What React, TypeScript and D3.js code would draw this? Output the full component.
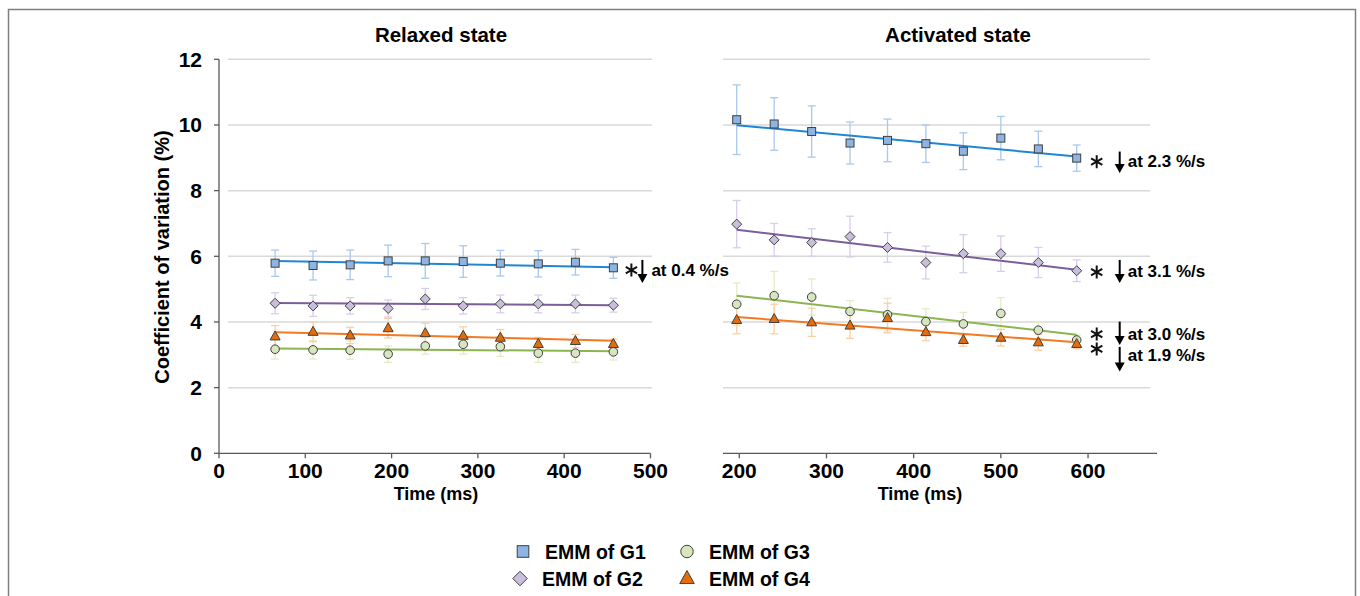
import React from 'react';
import * as d3 from 'd3';

// time points (ms) of the two protocols
const timesRelaxed = [65, 109, 152, 196, 239, 283, 326, 370, 413, 457];
const timesActivated = [197, 240, 283, 327, 370, 414, 457, 500, 543, 587];

const groups = ['G1', 'G2', 'G3', 'G4'];
const legendLabels = ['EMM of G1', 'EMM of G2', 'EMM of G3', 'EMM of G4'];

// estimated marginal means, relaxed state
const relaxedG1 = [5.79, 5.72, 5.74, 5.86, 5.86, 5.84, 5.79, 5.77, 5.82, 5.65];
const relaxedG2 = [4.57, 4.49, 4.49, 4.41, 4.7, 4.49, 4.55, 4.55, 4.55, 4.51];
const relaxedG3 = [3.17, 3.15, 3.14, 3.02, 3.27, 3.32, 3.25, 3.05, 3.05, 3.09];
const relaxedG4 = [3.56, 3.7, 3.59, 3.81, 3.66, 3.58, 3.52, 3.33, 3.42, 3.33];
const relaxedErrG1 = [0.4, 0.44, 0.45, 0.48, 0.53, 0.48, 0.39, 0.4, 0.39, 0.32];
const relaxedErrG2 = [0.32, 0.32, 0.25, 0.26, 0.32, 0.25, 0.27, 0.27, 0.27, 0.21];
const relaxedErrG3 = [0.3, 0.28, 0.28, 0.25, 0.25, 0.3, 0.3, 0.28, 0.28, 0.25];
const relaxedErrG4 = [0.33, 0.3, 0.25, 0.3, 0.3, 0.27, 0.25, 0.2, 0.2, 0.15];
const relaxedTrend = [[5.86, 5.67], [4.58, 4.51], [3.19, 3.11], [3.69, 3.43]];

// estimated marginal means, activated state
const activatedG1 = [10.16, 10.03, 9.8, 9.45, 9.53, 9.43, 9.2, 9.6, 9.27, 8.99];
const activatedG2 = [6.98, 6.5, 6.42, 6.6, 6.27, 5.81, 6.08, 6.08, 5.81, 5.56];
const activatedG3 = [4.54, 4.8, 4.76, 4.32, 4.22, 4.01, 3.94, 4.26, 3.75, 3.45];
const activatedG4 = [4.06, 4.09, 3.99, 3.89, 4.12, 3.69, 3.45, 3.52, 3.38, 3.33];
const activatedErrG1 = [1.06, 0.8, 0.78, 0.64, 0.65, 0.57, 0.56, 0.66, 0.54, 0.4];
const activatedErrG2 = [0.72, 0.5, 0.42, 0.62, 0.45, 0.5, 0.58, 0.54, 0.46, 0.33];
const activatedErrG3 = [0.65, 0.74, 0.55, 0.33, 0.5, 0.39, 0.35, 0.48, 0.26, 0.15];
const activatedErrG4 = [0.42, 0.45, 0.43, 0.39, 0.45, 0.26, 0.19, 0.25, 0.24, 0.15];
const activatedTrend = [[9.99, 9.04], [6.81, 5.59], [4.8, 3.61], [4.15, 3.38]];

// significant decreases: label, star level, arrow from / to, text level (CV %)
const relaxedNotes = [{ label: 'at 0.4 %/s', star: 5.58, from: 5.89, to: 5.19, text: 5.58 }];
const activatedNotes = [
  { label: 'at 2.3 %/s', star: 8.88, from: 9.19, to: 8.54, text: 8.9 },
  { label: 'at 3.1 %/s', star: 5.52, from: 5.89, to: 5.19, text: 5.55 },
  { label: 'at 3.0 %/s', star: 3.63, from: 4.01, to: 3.3, text: 3.63 },
  { label: 'at 1.9 %/s', star: 3.18, from: 3.24, to: 2.49, text: 3.0 },
];

const yTicks = [0, 2, 4, 6, 8, 10, 12];
const relaxedTicks = [0, 100, 200, 300, 400, 500];
const activatedTicks = [200, 300, 400, 500, 600];

const styles: Record<string, { fill: string; line: string; err: string }> = {
  G1: { fill: '#8db4e2', line: '#1f86d6', err: '#a9c8ee' },
  G2: { fill: '#c9bfdd', line: '#7b5e9b', err: '#d9cdea' },
  G3: { fill: '#d8e6bf', line: '#8cb54f', err: '#e2edc6' },
  G4: { fill: '#e46c0a', line: '#f27a22', err: '#fbcfa6' },
};

const FONT = '"Liberation Sans", Arial, sans-serif';
const AXIS = '#595959';
const GRID = '#d9d9d9';

const y = d3.scaleLinear().domain([0, 12]).range([453.3, 59.3]);

function Marker({ g, x, cy, s = 1 }: { g: string; x: number; cy: number; s?: number }) {
  const st = styles[g];
  const common = { fill: st.fill, stroke: '#3f3f3f', strokeWidth: 1 };
  if (g === 'G1') return <rect x={x - 4 * s} y={cy - 4 * s} width={8 * s} height={8 * s} {...common} />;
  if (g === 'G2')
    return <path d={`M${x},${cy - 5 * s}L${x + 5 * s},${cy}L${x},${cy + 5 * s}L${x - 5 * s},${cy}Z`} {...common} />;
  if (g === 'G3') return <circle cx={x} cy={cy} r={4.3 * s} {...common} />;
  return <path d={`M${x},${cy - 5.5 * s}L${x + 5 * s},${cy + 3.5 * s}L${x - 5 * s},${cy + 3.5 * s}Z`} {...common} />;
}

function Star({ x, cy }: { x: number; cy: number }) {
  const r = 6.5;
  const segs = [90, 30, 150].map((a) => {
    const rad = (a * Math.PI) / 180;
    return `M${x - r * Math.cos(rad)},${cy - r * Math.sin(rad)}L${x + r * Math.cos(rad)},${cy + r * Math.sin(rad)}`;
  });
  return <path d={segs.join('')} stroke="#111" strokeWidth={2} fill="none" />;
}

function Arrow({ x, y1, y2 }: { x: number; y1: number; y2: number }) {
  return (
    <g>
      <line x1={x} x2={x} y1={y1} y2={y2 - 7} stroke="#000" strokeWidth={2} />
      <path d={`M${x - 5},${y2 - 9}L${x + 5},${y2 - 9}L${x},${y2}Z`} fill="#000" />
    </g>
  );
}

type PanelProps = {
  title: string;
  titleX: number;
  labelX: number;
  times: number[];
  means: number[][];
  errs: number[][];
  trend: number[][];
  notes: typeof relaxedNotes;
  domain: [number, number];
  range: [number, number];
  grid: [number, number];
  ticks: number[];
  yAxis: boolean;
  offs: [number, number, number];
};

function Panel(p: PanelProps) {
  const x = d3.scaleLinear().domain(p.domain).range(p.range);
  const last = x(p.times[p.times.length - 1]);
  const line = d3
    .line<number>()
    .x((_, i) => x(i === 0 ? p.times[0] : p.times[p.times.length - 1]))
    .y((v) => y(v));
  return (
    <g>
      <text x={p.titleX} y={42} textAnchor="middle" fontSize={20.5} fontWeight="bold" fontFamily={FONT}>
        {p.title}
      </text>
      {yTicks
        .filter((t) => t > 0)
        .map((t) => (
          <line key={t} x1={p.grid[0]} x2={p.grid[1]} y1={y(t)} y2={y(t)} stroke={GRID} strokeWidth={1.5} />
        ))}
      {p.yAxis && (
        <g>
          <line x1={p.range[0]} x2={p.range[0]} y1={y(0)} y2={y(12)} stroke={AXIS} strokeWidth={1.3} />
          {yTicks.map((t) => (
            <g key={t}>
              <line x1={p.range[0] - 5} x2={p.range[0]} y1={y(t)} y2={y(t)} stroke={AXIS} strokeWidth={1.3} />
              <text x={202} y={y(t) + 7.5} textAnchor="end" fontSize={21} fontWeight="bold" fontFamily={FONT}>
                {t}
              </text>
            </g>
          ))}
        </g>
      )}
      <line x1={p.range[0]} x2={p.range[1]} y1={y(0)} y2={y(0)} stroke={AXIS} strokeWidth={1.3} />
      {p.ticks.map((t) => (
        <g key={t}>
          <line x1={x(t)} x2={x(t)} y1={y(0)} y2={y(0) + 5} stroke={AXIS} strokeWidth={1.3} />
          <text x={x(t)} y={y(0) + 25} textAnchor="middle" fontSize={21} fontWeight="bold" fontFamily={FONT}>
            {t}
          </text>
        </g>
      ))}
      <text x={p.labelX} y={y(0) + 47} textAnchor="middle" fontSize={18} fontWeight="bold" fontFamily={FONT}>
        Time (ms)
      </text>
      {groups.map((g, gi) => (
        <g key={g}>
          {p.times.map((t, i) => {
            const v = p.means[gi][i];
            const e = p.errs[gi][i];
            return (
              <g key={i} stroke={styles[g].err} strokeWidth={1.3}>
                <line x1={x(t)} x2={x(t)} y1={y(v + e)} y2={y(v - e)} />
                <line x1={x(t) - 4} x2={x(t) + 4} y1={y(v + e)} y2={y(v + e)} />
                <line x1={x(t) - 4} x2={x(t) + 4} y1={y(v - e)} y2={y(v - e)} />
              </g>
            );
          })}
        </g>
      ))}
      {groups.map((g, gi) => (
        <g key={g}>
          <path d={line(p.trend[gi]) || ''} stroke={styles[g].line} strokeWidth={2} fill="none" />
          {p.times.map((t, i) => (
            <Marker key={i} g={g} x={x(t)} cy={y(p.means[gi][i])} />
          ))}
        </g>
      ))}
      {p.notes.map((n) => (
        <g key={n.label}>
          <Star x={last + p.offs[0]} cy={y(n.star)} />
          <Arrow x={last + p.offs[1]} y1={y(n.from)} y2={y(n.to)} />
          <text x={last + p.offs[2]} y={y(n.text) + 6} fontSize={17} fontWeight="bold" fontFamily={FONT}>
            {n.label}
          </text>
        </g>
      ))}
    </g>
  );
}

export default function App() {
  const legendPos = [
    [523, 551.5],
    [520, 578.5],
    [687, 551.5],
    [687, 578.5],
  ];
  return (
    <svg
      width={1360}
      height={596}
      style={{ position: 'absolute', left: 0, top: 0, background: '#fff' }}
      fontFamily={FONT}
    >
      <rect x={8.5} y={9.5} width={1347} height={620} fill="#fff" stroke="#7f7f7f" strokeWidth={1.5} />
      <Panel
        title="Relaxed state"
        titleX={441}
        labelX={436}
        times={timesRelaxed}
        means={[relaxedG1, relaxedG2, relaxedG3, relaxedG4]}
        errs={[relaxedErrG1, relaxedErrG2, relaxedErrG3, relaxedErrG4]}
        trend={relaxedTrend}
        notes={relaxedNotes}
        domain={[0, 500]}
        range={[219, 650.5]}
        grid={[228, 652]}
        ticks={relaxedTicks}
        yAxis
        offs={[18, 29, 38]}
      />
      <Panel
        title="Activated state"
        titleX={958}
        labelX={920}
        times={timesActivated}
        means={[activatedG1, activatedG2, activatedG3, activatedG4]}
        errs={[activatedErrG1, activatedErrG2, activatedErrG3, activatedErrG4]}
        trend={activatedTrend}
        notes={activatedNotes}
        domain={[181.3, 679.1]}
        range={[723, 1157]}
        grid={[723, 1150]}
        ticks={activatedTicks}
        yAxis={false}
        offs={[20, 43, 51]}
      />
      <text
        transform={`translate(169,257) rotate(-90)`}
        textAnchor="middle"
        fontSize={20}
        fontWeight="bold"
      >
        Coefficient of variation (%)
      </text>
      {groups.map((g, i) => (
        <g key={g}>
          <Marker g={g} x={legendPos[i][0]} cy={legendPos[i][1]} s={1.45} />
          <text x={legendPos[i][0] + 22} y={legendPos[i][1] + 7} fontSize={19.5} fontWeight="bold">
            {legendLabels[i]}
          </text>
        </g>
      ))}
    </svg>
  );
}
